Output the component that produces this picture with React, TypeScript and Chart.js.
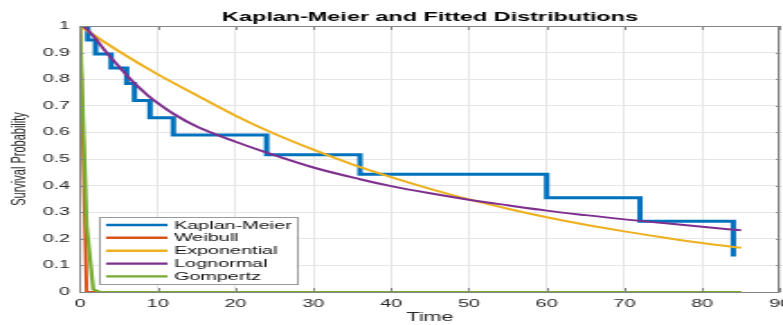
import React, { useEffect, useRef } from 'react';
import { Chart, registerables } from 'chart.js';

Chart.register(...registerables);

// ---- data ----
const kmTimes = [0, 1, 2, 4, 6, 7, 9, 12, 24, 36, 60, 72, 84];
const kmSurvival = [1, 0.947, 0.895, 0.842, 0.784, 0.72, 0.655, 0.59, 0.516, 0.443, 0.354, 0.266, 0.133];

const weibullTimes = [0, 0.85, 85];
const weibullSurvival = [1, 0, 0];

const expTimes = [0, 5, 10, 15, 20, 25, 30, 35, 40, 45, 50, 55, 60, 65, 70, 75, 80, 85];
const expSurvival = [1, 0.905, 0.818, 0.74, 0.663, 0.595, 0.535, 0.48, 0.432, 0.388, 0.348, 0.313, 0.281, 0.253, 0.228, 0.205, 0.184, 0.166];

const lognTimes = [0, 0.5, 1, 2, 3, 4, 5, 6, 7, 8, 9, 10, 12, 15, 20, 24, 30, 36, 40, 45, 50, 55, 60, 65, 70, 75, 80, 85];
const lognSurvival = [1, 0.997, 0.985, 0.952, 0.915, 0.88, 0.848, 0.815, 0.785, 0.758, 0.732, 0.71, 0.67, 0.622, 0.565, 0.524, 0.468, 0.424, 0.398, 0.371, 0.347, 0.326, 0.306, 0.289, 0.273, 0.259, 0.245, 0.232];

const gompTimes = [0, 0.85, 1.7, 2.55, 85];
const gompSurvival = [1, 0.25, 0.01, 0, 0];

const seriesNames = ['Kaplan-Meier', 'Weibull', 'Exponential', 'Lognormal', 'Gompertz'];
const seriesColors = ['#0072BD', '#D95319', '#EDB120', '#7E2F8E', '#77AC30'];

const xTicks = [0, 10, 20, 30, 40, 50, 60, 70, 80, 90];
const xTickLabels = ['0', '10', '20', '30', '40', '50', '60', '70', '80', '90'];
const yTicks = [0, 0.1, 0.2, 0.3, 0.4, 0.5, 0.6, 0.7, 0.8, 0.9, 1];
const yTickLabels = ['0', '0.1', '0.2', '0.3', '0.4', '0.5', '0.6', '0.7', '0.8', '0.9', '1'];

const titleText = 'Kaplan-Meier and Fitted Distributions';
const xTitle = 'Time';
const yTitle = 'Survival Probability';

// ---- layout ----
const OUT_W = 783;
const OUT_H = 325;
const STRETCH = 1.8;
const W = OUT_W / STRETCH; // internal canvas width
const H = OUT_H;
const FONT = '"Liberation Sans", Arial, Helvetica, sans-serif';

const toPts = (xs: number[], ys: number[]) => xs.map((x, i) => ({ x, y: ys[i] }));

export default function App() {
  const ref = useRef<HTMLCanvasElement | null>(null);

  useEffect(() => {
    document.body.style.margin = '0';
    const canvas = ref.current;
    if (!canvas) return;

    const overlay = {
      id: 'matlabOverlay',
      afterDatasetsDraw(chart: any) {
        const ctx = chart.ctx as CanvasRenderingContext2D;
        const a = chart.chartArea;
        const xs = chart.scales.x;
        const ys = chart.scales.y;
        ctx.save();
        // box
        ctx.strokeStyle = '#858585';
        ctx.lineWidth = 1;
        ctx.strokeRect(Math.round(a.left) + 0.5, Math.round(a.top) + 0.5, Math.round(a.right - a.left) - 1, Math.round(a.bottom - a.top));
        // inward ticks
        ctx.beginPath();
        xTicks.forEach((v) => {
          const px = Math.round(xs.getPixelForValue(v)) + 0.5;
          ctx.moveTo(px, a.bottom);
          ctx.lineTo(px, a.bottom - 4);
          ctx.moveTo(px, a.top);
          ctx.lineTo(px, a.top + 4);
        });
        yTicks.forEach((v) => {
          const py = Math.round(ys.getPixelForValue(v)) + 0.5;
          ctx.moveTo(a.left, py);
          ctx.lineTo(a.left + 2.3, py);
          ctx.moveTo(a.right, py);
          ctx.lineTo(a.right - 2.3, py);
        });
        ctx.stroke();

        // legend
        const lx0 = 98.5 / STRETCH;
        const lx1 = 296 / STRETCH;
        const ly0 = 217;
        const ly1 = 284;
        ctx.fillStyle = '#ffffff';
        ctx.fillRect(lx0, ly0, lx1 - lx0, ly1 - ly0);
        ctx.strokeStyle = '#9a9a9a';
        ctx.lineWidth = 1;
        ctx.strokeRect(Math.round(lx0) + 0.5, ly0 + 0.5, Math.round(lx1 - lx0), ly1 - ly0);
        const rowY = [225, 237.8, 250.7, 263.6, 276.4];
        ctx.font = `11px ${FONT}`;
        ctx.textAlign = 'left';
        ctx.textBaseline = 'middle';
        seriesNames.forEach((name, i) => {
          ctx.strokeStyle = seriesColors[i];
          ctx.lineWidth = 2.4;
          ctx.beginPath();
          ctx.moveTo(106 / STRETCH, rowY[i]);
          ctx.lineTo(167.5 / STRETCH, rowY[i]);
          ctx.stroke();
          ctx.fillStyle = '#111111';
          ctx.fillText(name, 174 / STRETCH, rowY[i] + 0.5);
        });

        // titles
        const cx = (a.left + a.right) / 2;
        ctx.fillStyle = '#000000';
        ctx.textAlign = 'center';
        ctx.textBaseline = 'middle';
        ctx.font = `bold 13px ${FONT}`;
        ctx.fillText(titleText, cx, 17);
        ctx.fillStyle = '#262626';
        ctx.font = `12px ${FONT}`;
        ctx.fillText(xTitle, cx, 317.5);
        ctx.save();
        ctx.translate(11, (a.top + a.bottom) / 2);
        ctx.rotate(-Math.PI / 2);
        ctx.font = `11px ${FONT}`;
        ctx.fillText(yTitle, 0, 0);
        ctx.restore();
        ctx.restore();
      },
    };

    const base = { pointRadius: 0, pointHoverRadius: 0, fill: false };
    const chart = new Chart(canvas, {
      type: 'line',
      data: {
        datasets: [
          { ...base, label: seriesNames[0], data: toPts(kmTimes, kmSurvival), borderColor: seriesColors[0], borderWidth: 3, stepped: 'before', order: 5 },
          { ...base, label: seriesNames[1], data: toPts(weibullTimes, weibullSurvival), borderColor: seriesColors[1], borderWidth: 2, order: 4 },
          { ...base, label: seriesNames[2], data: toPts(expTimes, expSurvival), borderColor: seriesColors[2], borderWidth: 2, cubicInterpolationMode: 'monotone', order: 3 },
          { ...base, label: seriesNames[3], data: toPts(lognTimes, lognSurvival), borderColor: seriesColors[3], borderWidth: 2, cubicInterpolationMode: 'monotone', order: 2 },
          { ...base, label: seriesNames[4], data: toPts(gompTimes, gompSurvival), borderColor: seriesColors[4], borderWidth: 2.2, order: 1 },
        ] as any,
      },
      options: {
        responsive: false,
        devicePixelRatio: 1,
        animation: false,
        events: [],
        layout: { padding: { top: 26, right: W - 780 / STRETCH, left: 0, bottom: 0 } },
        plugins: { legend: { display: false }, title: { display: false }, tooltip: { enabled: false } },
        scales: {
          x: {
            type: 'linear',
            min: 0,
            max: 90,
            afterBuildTicks: (s: any) => {
              s.ticks = xTicks.map((v) => ({ value: v }));
            },
            afterFit: (s: any) => {
              s.height = 33;
              s.paddingLeft = 0;
              s.paddingRight = 0;
            },
            ticks: {
              autoSkip: false,
              maxRotation: 0,
              padding: 5,
              color: '#262626',
              font: { family: FONT, size: 11 },
              callback: (_v: any, i: number) => xTickLabels[i],
            },
            grid: { color: '#e6e6e6', lineWidth: 1, drawTicks: false },
            border: { display: false },
          },
          y: {
            type: 'linear',
            min: 0,
            max: 1,
            afterBuildTicks: (s: any) => {
              s.ticks = yTicks.map((v) => ({ value: v }));
            },
            afterFit: (s: any) => {
              s.width = 80 / STRETCH;
              s.paddingTop = 0;
              s.paddingBottom = 0;
            },
            ticks: {
              autoSkip: false,
              padding: 5.5,
              color: '#262626',
              font: { family: FONT, size: 11 },
              callback: (_v: any, i: number) => yTickLabels[i],
            },
            grid: { color: '#e6e6e6', lineWidth: 1, drawTicks: false },
            border: { display: false },
          },
        },
      } as any,
      plugins: [overlay],
    });
    return () => chart.destroy();
  }, []);

  return (
    <div style={{ width: OUT_W, height: OUT_H, overflow: 'hidden', background: '#ffffff' }}>
      <div style={{ width: W, height: H, transform: `scaleX(${STRETCH})`, transformOrigin: '0 0' }}>
        <canvas ref={ref} width={W} height={H} style={{ display: 'block', width: `${W}px`, height: `${H}px` }} />
      </div>
    </div>
  );
}
